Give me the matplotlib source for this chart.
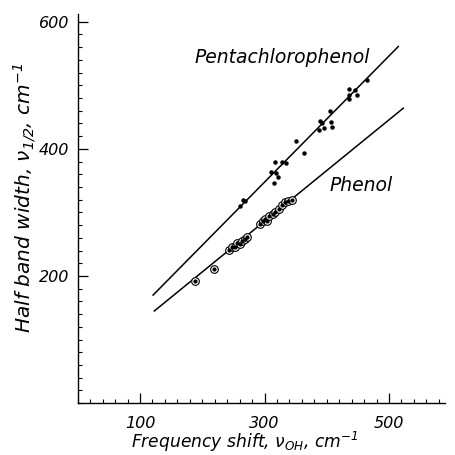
import matplotlib
matplotlib.use("Agg")
import matplotlib.pyplot as plt
from matplotlib.ticker import MultipleLocator

plt.rcParams['font.family'] = ['DejaVu Sans']
plt.rcParams['font.style'] = 'italic'
plt.rcParams['mathtext.fontset'] = 'dejavusans'
plt.rcParams['mathtext.default'] = 'it'

# Pentachlorophenol data points (frequency shift, half band width)
penta_x = [266, 261, 269, 317, 328, 335, 311, 319, 321, 316, 351, 364, 389, 405,
           407, 408, 396, 387, 392, 435, 436, 436, 446, 448, 465]
penta_y = [320, 310, 318, 380, 380, 378, 363, 362, 355, 347, 413, 394, 444, 460,
           443, 435, 433, 429, 441, 494, 484, 478, 492, 484, 509]

# Phenol data points
phenol_x = [188, 219, 243, 248, 252, 256, 260, 264, 268, 272, 292, 297, 300, 304,
            308, 313, 317, 323, 328, 333, 338, 344]
phenol_y = [192, 211, 241, 245, 246, 252, 250, 255, 258, 262, 282, 286, 290, 287,
            295, 297, 300, 305, 312, 316, 318, 320]

# Fitted lines (end points)
penta_line_x = [121, 515]
penta_line_y = [170, 561]
phenol_line_x = [123, 523]
phenol_line_y = [145, 464]

x_ticks = [100, 300, 500]
y_ticks = [200, 400, 600]

fig = plt.figure(figsize=(4.55, 4.55), dpi=100)
ax = fig.add_axes([0.171, 0.114, 0.807, 0.855])

ax.plot(penta_line_x, penta_line_y, color='black', lw=1.1)
ax.plot(phenol_line_x, phenol_line_y, color='black', lw=1.1)

ax.plot(penta_x, penta_y, linestyle='none', marker='o', ms=2.2, color='black')
ax.plot(phenol_x, phenol_y, linestyle='none', marker='o', ms=5.5,
        markerfacecolor='white', markeredgecolor='black', markeredgewidth=0.8)
ax.plot(phenol_x, phenol_y, linestyle='none', marker='o', ms=2.0, color='black')

ax.text(188, 544, 'Pentachlorophenol', fontsize=13.5, va='center', ha='left', style='italic')
ax.text(405, 343, 'Phenol', fontsize=13.5, va='center', ha='left', style='italic')

ax.set_xlim(0, 590)
ax.set_ylim(0, 612)
ax.set_xticks(x_ticks)
ax.set_yticks(y_ticks)
ax.xaxis.set_minor_locator(MultipleLocator(20))
ax.yaxis.set_minor_locator(MultipleLocator(20))
ax.tick_params(which='major', direction='in', length=7, width=0.9, labelsize=11.5)
ax.tick_params(axis='x', which='major', pad=9.5)
ax.tick_params(axis='y', which='major', pad=6)
ax.tick_params(which='minor', direction='in', length=3, width=0.8)
for lab in ax.get_xticklabels() + ax.get_yticklabels():
    lab.set_style('italic')

ax.spines['top'].set_visible(False)
ax.spines['right'].set_visible(False)
ax.spines['left'].set_linewidth(1.0)
ax.spines['bottom'].set_linewidth(1.0)

fig.text(245 / 455, 7 / 455, r'Frequency shift, $\nu_{OH}$, cm$^{-1}$',
         fontsize=12.3, ha='center', va='baseline', style='italic')
fig.text(25 / 455, 1 - 198 / 455, r'Half band width, $\nu_{1/2}$, cm$^{-1}$',
         fontsize=14.5, ha='center', va='center', rotation=90, style='italic')

fig.savefig('out.png', dpi=100)
